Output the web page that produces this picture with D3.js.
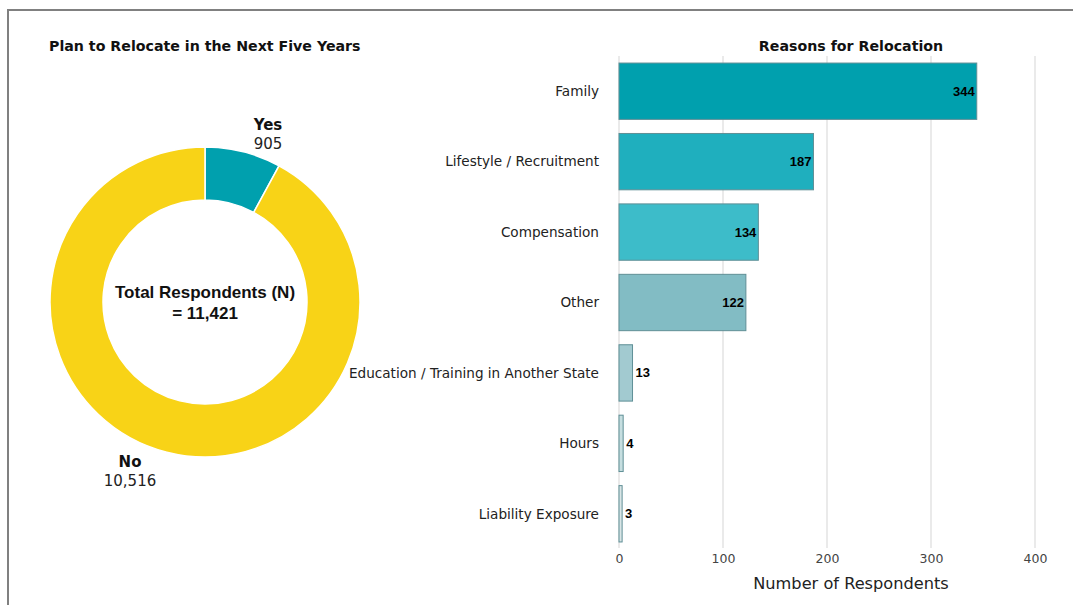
<!DOCTYPE html>
<html>
<head>
<meta charset="utf-8">
<script src="https://cdn.jsdelivr.net/npm/d3@7"></script>
<style>
  html, body { margin: 0; padding: 0; background: #fff; }
  svg { display: block; }
  .lbl { font-family: "DejaVu Sans", Verdana, sans-serif; fill: #222; }
  .val { font-family: "Liberation Sans", Arial, sans-serif; font-weight: bold; fill: #000; }
</style>
</head>
<body>
<script>
const W = 1073, H = 605

// donut data
const pieLabels = ['Yes', 'No']
const pieValues = [905, 10516]
const pieColors = ['#00a0ae', '#f8d317']
const totalText = ['Total Respondents (N)', '= 11,421']

// bar data
const reasons = ['Family', 'Lifestyle / Recruitment', 'Compensation', 'Other',
  'Education / Training in Another State', 'Hours', 'Liability Exposure']
const counts = [344, 187, 134, 122, 13, 4, 3]
const barColors = ['#00a0ae', '#1fafbe', '#3dbcc9', '#82bcc4', '#a2cad0', '#c6dee0', '#d9e5e6']
const xTicks = [0, 100, 200, 300, 400]

const svg = d3.select('body').append('svg')
  .attr('width', W).attr('height', H)

// frame
svg.append('path')
  .attr('d', `M8,${H} V10 H${W}`)
  .attr('fill', 'none').attr('stroke', '#808080').attr('stroke-width', 2)

// ---- donut ----
svg.append('text').attr('class', 'lbl')
  .attr('x', 49).attr('y', 51)
  .style('font-size', '14.2px').style('font-weight', 'bold').style('fill', '#111')
  .text('Plan to Relocate in the Next Five Years')

const cx = 205, cy = 302, rOut = 155, rIn = 102
const pie = d3.pie().sort(null)(pieValues)
const arc = d3.arc().innerRadius(rIn).outerRadius(rOut)
const g = svg.append('g').attr('transform', `translate(${cx},${cy})`)

g.selectAll('path.slice').data(pie).join('path')
  .attr('class', 'slice')
  .attr('d', arc)
  .attr('fill', (d, i) => pieColors[i])
  .attr('stroke', '#fff').attr('stroke-width', 1.5)

const pieLabelPos = [[63, -172], [-75, 165]]
g.selectAll('g.plbl').data(pie).join('g')
  .attr('class', 'plbl')
  .attr('transform', (d, i) => `translate(${pieLabelPos[i][0]},${pieLabelPos[i][1]})`)
  .each(function (d, i) {
    const s = d3.select(this)
    s.append('text').attr('class', 'lbl').attr('text-anchor', 'middle')
      .style('font-size', '15px').style('font-weight', 'bold').style('fill', '#111')
      .text(pieLabels[i])
    s.append('text').attr('class', 'lbl').attr('text-anchor', 'middle')
      .attr('y', 19).style('font-size', '15px').style('fill', '#222')
      .text(d3.format(',')(pieValues[i]))
  })

g.selectAll('text.tot').data(totalText).join('text')
  .attr('class', 'val tot').attr('text-anchor', 'middle')
  .attr('y', (d, i) => -4 + i * 21)
  .style('font-size', '17px').style('fill', '#111')
  .text(d => d)

// ---- bars ----
const x = d3.scaleLinear().domain([0, 400]).range([619, 1035])
const y = d3.scaleBand().domain(reasons).range([56, 549]).paddingInner(0.2).paddingOuter(0.1)

svg.append('text').attr('class', 'lbl')
  .attr('x', 851).attr('y', 51).attr('text-anchor', 'middle')
  .style('font-size', '14.2px').style('font-weight', 'bold').style('fill', '#111')
  .text('Reasons for Relocation')

svg.append('g').selectAll('line').data(xTicks).join('line')
  .attr('x1', d => x(d)).attr('x2', d => x(d))
  .attr('y1', 56).attr('y2', 548)
  .attr('stroke', '#e3e3e3').attr('stroke-width', 1.5)

const xAxis = svg.append('g')
  .attr('transform', 'translate(0,548)')
  .call(d3.axisBottom(x).tickValues(xTicks).tickSize(0).tickPadding(6))
xAxis.select('.domain').remove()
xAxis.selectAll('text')
  .attr('class', 'lbl').style('font-size', '12.5px').style('fill', '#444')

svg.append('text').attr('class', 'lbl')
  .attr('x', 851).attr('y', 589).attr('text-anchor', 'middle')
  .style('font-size', '16.2px').style('fill', '#222')
  .text('Number of Respondents')

svg.append('g').selectAll('text').data(reasons).join('text')
  .attr('class', 'lbl')
  .attr('x', 599).attr('y', d => y(d) + y.bandwidth() / 2)
  .attr('dy', '0.35em').attr('text-anchor', 'end')
  .style('font-size', '13.6px')
  .text(d => d)

svg.append('g').selectAll('rect').data(counts).join('rect')
  .attr('x', x(0))
  .attr('y', (d, i) => y(reasons[i]))
  .attr('width', d => Math.max(x(d) - x(0), 2))
  .attr('height', y.bandwidth())
  .attr('fill', (d, i) => barColors[i])
  .attr('stroke', '#5f8f96').attr('stroke-width', 1)

svg.append('g').selectAll('text').data(counts).join('text')
  .attr('class', 'val')
  .attr('x', d => d > 50 ? x(d) - 2 : x(d) + 3)
  .attr('y', (d, i) => y(reasons[i]) + y.bandwidth() / 2)
  .attr('dy', '0.35em')
  .attr('text-anchor', d => d > 50 ? 'end' : 'start')
  .style('font-size', '13px')
  .text(d => d)
</script>
</body>
</html>
